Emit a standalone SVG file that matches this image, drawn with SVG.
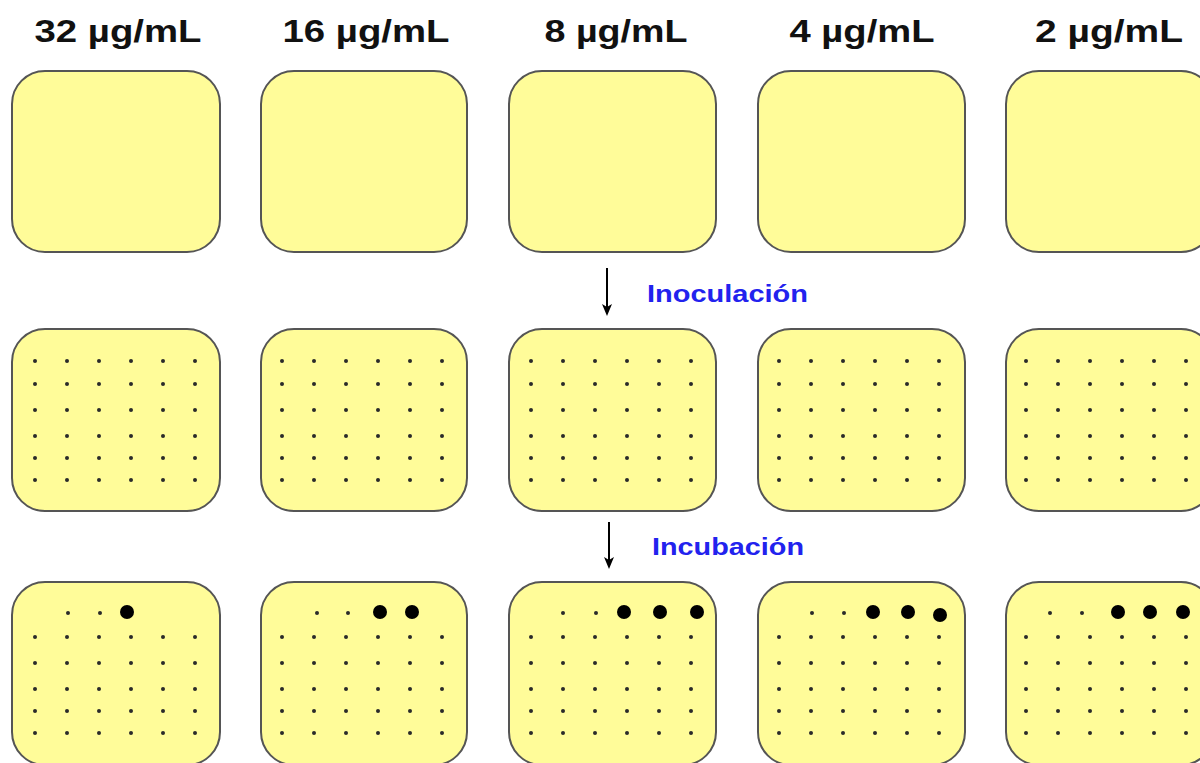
<svg xmlns="http://www.w3.org/2000/svg" xmlns:xlink="http://www.w3.org/1999/xlink" width="1200" height="763" viewBox="0 0 1200 763">
<style>
.plate{fill:#FFFC99;stroke:#555;stroke-width:2}
.lbl{font-family:"Liberation Sans",Arial,sans-serif;font-weight:bold;font-size:32px;fill:#111;text-anchor:middle}
.step{font-family:"Liberation Sans",Arial,sans-serif;font-weight:bold;font-size:23px;fill:#2222EE}
.d{fill:#2a2a2a}
.big{fill:#000}
.arr{stroke:#000;stroke-width:2;fill:none}
</style>
<defs>
<marker id="ah" markerWidth="12" markerHeight="10" refX="4" refY="5" orient="auto" markerUnits="userSpaceOnUse" viewBox="0 0 12 10">
<path d="M0,0 L12,5 L0,10 L3,5 Z" fill="#000"/>
</marker>
<g id="row6">
<circle class="d" cx="23" cy="0" r="2"/><circle class="d" cx="55" cy="0" r="2"/><circle class="d" cx="87" cy="0" r="2"/><circle class="d" cx="119" cy="0" r="2"/><circle class="d" cx="151" cy="0" r="2"/><circle class="d" cx="183" cy="0" r="2"/>
</g>
<g id="grid6">
<use xlink:href="#row6" y="32"/><use xlink:href="#row6" y="55"/><use xlink:href="#row6" y="81"/><use xlink:href="#row6" y="107"/><use xlink:href="#row6" y="129"/><use xlink:href="#row6" y="151"/>
</g>
<g id="grid5">
<use xlink:href="#row6" y="55"/><use xlink:href="#row6" y="81"/><use xlink:href="#row6" y="107"/><use xlink:href="#row6" y="129"/><use xlink:href="#row6" y="151"/>
</g>
</defs>
<rect width="1200" height="763" fill="#fff"/>

<g id="labels">
<text class="lbl" x="118" y="42" textLength="167" lengthAdjust="spacingAndGlyphs">32 µg/mL</text>
<text class="lbl" x="366" y="42" textLength="167" lengthAdjust="spacingAndGlyphs">16 µg/mL</text>
<text class="lbl" x="616" y="42" textLength="143" lengthAdjust="spacingAndGlyphs">8 µg/mL</text>
<text class="lbl" x="862" y="42" textLength="145" lengthAdjust="spacingAndGlyphs">4 µg/mL</text>
<text class="lbl" x="1109" y="42" textLength="148" lengthAdjust="spacingAndGlyphs">2 µg/mL</text>
</g>

<g id="row1">
<g id="p1-32"><rect class="plate" x="12" y="71" width="208" height="181" rx="33"/></g>
<g id="p1-16"><rect class="plate" x="261" y="71" width="206" height="181" rx="33"/></g>
<g id="p1-8"><rect class="plate" x="509" y="71" width="207" height="181" rx="33"/></g>
<g id="p1-4"><rect class="plate" x="758" y="71" width="207" height="181" rx="33"/></g>
<g id="p1-2"><rect class="plate" x="1006" y="71" width="208" height="181" rx="33"/></g>
</g>

<g id="row2">
<g id="p2-32"><rect class="plate" x="12" y="329" width="208" height="182" rx="33"/><use xlink:href="#grid6" x="12" y="329"/></g>
<g id="p2-16"><rect class="plate" x="261" y="329" width="206" height="182" rx="33"/><use xlink:href="#grid6" x="259" y="329"/></g>
<g id="p2-8"><rect class="plate" x="509" y="329" width="207" height="182" rx="33"/><use xlink:href="#grid6" x="508" y="329"/></g>
<g id="p2-4"><rect class="plate" x="758" y="329" width="207" height="182" rx="33"/><use xlink:href="#grid6" x="756" y="329"/></g>
<g id="p2-2"><rect class="plate" x="1006" y="329" width="208" height="182" rx="33"/><use xlink:href="#grid6" x="1003" y="329"/></g>
</g>

<g id="row3">
<g id="p3-32"><rect class="plate" x="12" y="582" width="208" height="183" rx="33"/><use xlink:href="#grid5" x="12" y="582"/>
<circle class="d" cx="68" cy="613" r="2"/><circle class="d" cx="100" cy="613" r="2"/><circle class="big" cx="127" cy="612" r="7"/></g>
<g id="p3-16"><rect class="plate" x="261" y="582" width="206" height="183" rx="33"/><use xlink:href="#grid5" x="259" y="582"/>
<circle class="d" cx="317" cy="613" r="2"/><circle class="d" cx="348" cy="613" r="2"/><circle class="big" cx="380" cy="612" r="7"/><circle class="big" cx="412" cy="612" r="7"/></g>
<g id="p3-8"><rect class="plate" x="509" y="582" width="207" height="183" rx="33"/><use xlink:href="#grid5" x="508" y="582"/>
<circle class="d" cx="563" cy="613" r="2"/><circle class="d" cx="596" cy="613" r="2"/><circle class="big" cx="624" cy="612" r="7"/><circle class="big" cx="660" cy="612" r="7"/><circle class="big" cx="697" cy="612" r="7"/></g>
<g id="p3-4"><rect class="plate" x="758" y="582" width="207" height="183" rx="33"/><use xlink:href="#grid5" x="756" y="582"/>
<circle class="d" cx="812" cy="613" r="2"/><circle class="d" cx="844" cy="613" r="2"/><circle class="big" cx="873" cy="612" r="7"/><circle class="big" cx="908" cy="612" r="7"/><circle class="big" cx="940" cy="615" r="7"/></g>
<g id="p3-2"><rect class="plate" x="1006" y="582" width="208" height="183" rx="33"/><use xlink:href="#grid5" x="1003" y="582"/>
<circle class="d" cx="1050" cy="613" r="2"/><circle class="d" cx="1082" cy="613" r="2"/><circle class="big" cx="1118" cy="612" r="7"/><circle class="big" cx="1150" cy="612" r="7"/><circle class="big" cx="1183" cy="612" r="7"/></g>
</g>

<g id="connectors">
<line class="arr" x1="607" y1="268" x2="607" y2="308" marker-end="url(#ah)"/>
<line class="arr" x1="609" y1="522" x2="609" y2="561" marker-end="url(#ah)"/>
</g>
<g id="step-labels">
<text class="step" x="647" y="302" textLength="161" lengthAdjust="spacingAndGlyphs">Inoculación</text>
<text class="step" x="652" y="555" textLength="152" lengthAdjust="spacingAndGlyphs">Incubación</text>
</g>
</svg>
